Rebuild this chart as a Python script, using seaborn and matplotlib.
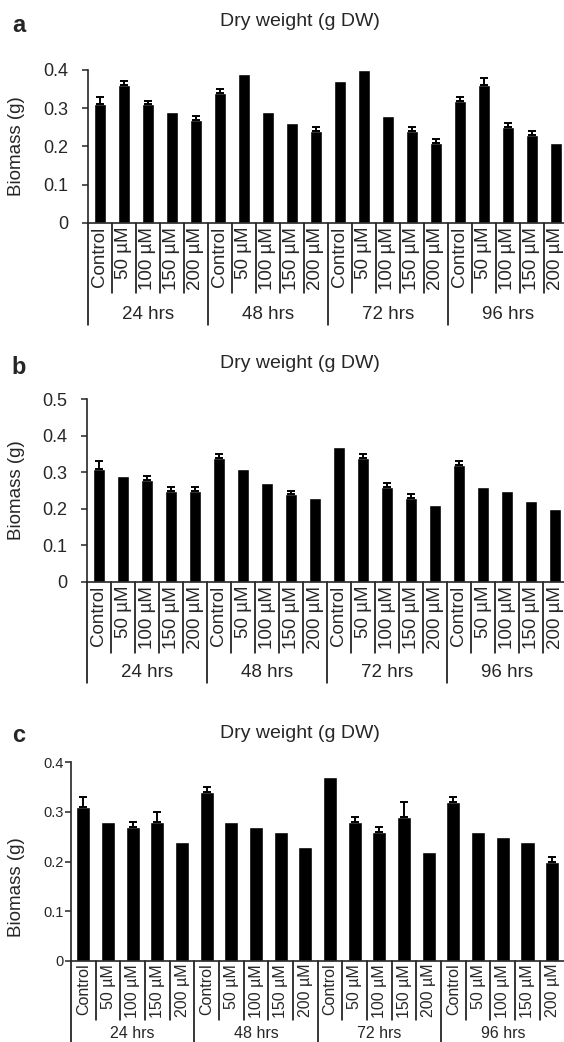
import numpy as np
import pandas as pd
import matplotlib
matplotlib.use('Agg')
import matplotlib.pyplot as plt
import seaborn as sns

# categories and time points
doses = ['Control', '50 µM', '100 µM', '150 µM', '200 µM']
times = ['24 hrs', '48 hrs', '72 hrs', '96 hrs']

# panel a
biomass_a = [0.31, 0.36, 0.31, 0.29, 0.27,
             0.34, 0.39, 0.29, 0.26, 0.24,
             0.37, 0.40, 0.28, 0.24, 0.21,
             0.32, 0.36, 0.25, 0.23, 0.21]
err_a = [0.02, 0.01, 0.01, 0.00, 0.01,
         0.01, 0.00, 0.00, 0.00, 0.01,
         0.00, 0.00, 0.00, 0.01, 0.01,
         0.01, 0.02, 0.01, 0.01, 0.00]

# panel b
biomass_b = [0.31, 0.29, 0.28, 0.25, 0.25,
             0.34, 0.31, 0.27, 0.24, 0.23,
             0.37, 0.34, 0.26, 0.23, 0.21,
             0.32, 0.26, 0.25, 0.22, 0.20]
err_b = [0.02, 0.00, 0.01, 0.01, 0.01,
         0.01, 0.00, 0.00, 0.01, 0.00,
         0.00, 0.01, 0.01, 0.01, 0.00,
         0.01, 0.00, 0.00, 0.00, 0.00]

# panel c
biomass_c = [0.31, 0.28, 0.27, 0.28, 0.24,
             0.34, 0.28, 0.27, 0.26, 0.23,
             0.37, 0.28, 0.26, 0.29, 0.22,
             0.32, 0.26, 0.25, 0.24, 0.20]
err_c = [0.02, 0.00, 0.01, 0.02, 0.00,
         0.01, 0.00, 0.00, 0.00, 0.00,
         0.00, 0.01, 0.01, 0.03, 0.00,
         0.01, 0.00, 0.00, 0.00, 0.01]

sns.set_style('ticks')
plt.rcParams['font.family'] = ['Liberation Sans', 'DejaVu Sans']

W, H = 564, 1042
fig = plt.figure(figsize=(W / 100, H / 100), dpi=100)

keys = [f'{t}|{d}' for t in times for d in doses]


def panel(letter, values, errs, left, top, bottom, width, ymax, yticks,
          tick_fs, tick_pad, lab_fs, cat_fs, cat_pad, cat_drop, grp_drop,
          grp_lbl, grp_fs, title_y, letter_y, bar_w=0.5, ylab_y=0.5):
    ax = fig.add_axes([left / W, 1 - bottom / H, width / W, (bottom - top) / H])
    ax_h = bottom - top
    df = pd.DataFrame({'key': keys, 'biomass': values})
    sns.barplot(data=df, x='key', y='biomass', order=keys, color='black',
                saturation=1, width=bar_w, errorbar=None, ax=ax)
    e = np.array(errs)
    idx = np.nonzero(e)[0]
    ax.errorbar(idx, np.array(values)[idx], yerr=[np.zeros(len(idx)), e[idx]],
                fmt='none', ecolor='black', elinewidth=1.4, capsize=2.8,
                capthick=1.4)
    ax.set_xlim(-0.5, len(keys) - 0.5)
    ax.set_ylim(0, ymax)
    ax.set_yticks(yticks)
    ax.set_yticklabels(['0' if v == 0 else f'{v:.1f}' for v in yticks])
    ax.tick_params(axis='y', length=4, width=1.1, labelsize=tick_fs, pad=tick_pad)
    ax.tick_params(axis='x', length=0, labelsize=cat_fs, pad=cat_pad)
    ax.set_xticks(range(len(keys)))
    ax.set_xticklabels([k.split('|')[1] for k in keys], rotation=90, va='top')
    ax.set_xlabel('')
    ax.set_ylabel('Biomass (g)', fontsize=lab_fs, va='center')
    ax.yaxis.set_label_coords((17 - left) / width, ylab_y)
    sns.despine(ax=ax)
    for s in ['left', 'bottom']:
        ax.spines[s].set_linewidth(1.2)

    # separators between doses and time groups
    trans = ax.get_xaxis_transform()
    for i in range(len(keys) + 1):
        drop = grp_drop if i % len(doses) == 0 else cat_drop
        ax.plot([i - 0.5, i - 0.5], [0, -drop / ax_h], transform=trans,
                color='black', lw=1.1, clip_on=False)
    for j, t in enumerate(times):
        ax.text(j * len(doses) + (len(doses) - 1) / 2, -grp_lbl / ax_h, t,
                transform=trans, ha='center', va='center', fontsize=grp_fs)

    fig.text(300 / W, 1 - title_y / H, 'Dry weight (g DW)', ha='center',
             va='center', fontsize=14)
    fig.text(19 / W, 1 - letter_y / H, letter, ha='center', va='center',
             fontsize=17, fontweight='bold')
    return ax


panel('a', biomass_a, err_a, left=87.7, top=70, bottom=222.7, width=480,
      ymax=0.4, yticks=[0, 0.1, 0.2, 0.3, 0.4], tick_fs=13, tick_pad=10,
      lab_fs=13.5, cat_fs=13.5, cat_pad=3, cat_drop=70, grp_drop=102,
      grp_lbl=92, grp_fs=13.5, title_y=22, letter_y=26)

panel('b', biomass_b, err_b, left=87, top=399.3, bottom=581.7, width=480,
      ymax=0.5, yticks=[0, 0.1, 0.2, 0.3, 0.4, 0.5], tick_fs=13, tick_pad=10,
      lab_fs=13.5, cat_fs=13.5, cat_pad=3, cat_drop=71, grp_drop=101,
      grp_lbl=91, grp_fs=13.5, title_y=363, letter_y=367)

panel('c', biomass_c, err_c, left=71, top=762.3, bottom=961, width=493.5,
      ymax=0.4, yticks=[0, 0.1, 0.2, 0.3, 0.4], tick_fs=10.5, tick_pad=1,
      lab_fs=13.5, cat_fs=11.5, cat_pad=2, cat_drop=59, grp_drop=90,
      grp_lbl=72, grp_fs=11.5, title_y=733, letter_y=735, bar_w=0.57,
      ylab_y=0.37)

fig.savefig('out.png', dpi=100)
